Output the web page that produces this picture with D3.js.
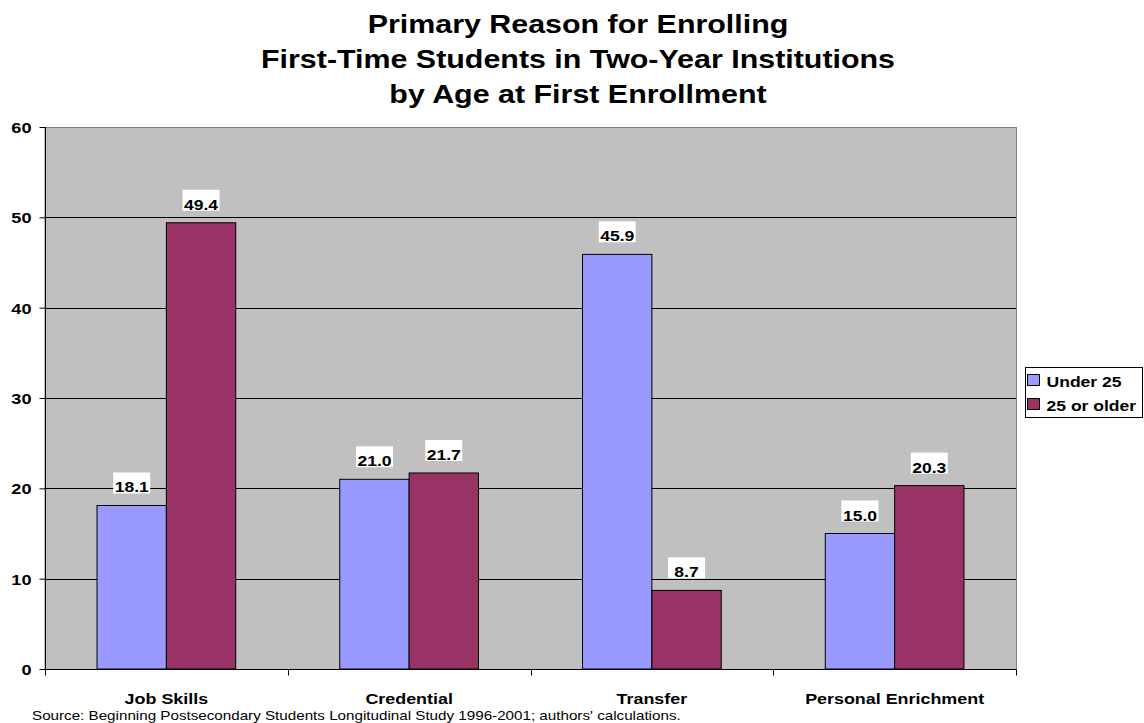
<!DOCTYPE html>
<html>
<head>
<meta charset="utf-8">
<script src="https://cdn.jsdelivr.net/npm/d3@7"></script>
<style>
  html, body { margin: 0; padding: 0; background: #ffffff; }
  svg { display: block; font-family: Arial, "Liberation Sans", sans-serif; }
</style>
</head>
<body>
<svg id="chart" width="1144" height="723"></svg>
<script>
// Primary reason for enrolling, percent of first-time students
const categories = ["Job Skills", "Credential", "Transfer", "Personal Enrichment"];
const seriesNames = ["Under 25", "25 or older"];
const under25 = [18.1, 21.0, 45.9, 15.0];
const over25 = [49.4, 21.7, 8.7, 20.3];
const yTicks = [0, 10, 20, 30, 40, 50, 60];
const titleLines = [
  "Primary Reason for Enrolling",
  "First-Time Students in Two-Year Institutions",
  "by Age at First Enrollment"
];
const sourceNote = "Source:  Beginning Postsecondary Students Longitudinal Study 1996-2001; authors' calculations.";

const colors = ["#9999FF", "#993366"];
const WIDE = 1.17; // horizontal widening applied to all lettering
const svg = d3.select("#chart");

const plot = { left: 45, right: 1016, top: 127, bottom: 669 };

const x0 = d3.scaleBand().domain(categories).range([plot.left, plot.right]).paddingInner(0).paddingOuter(0);
const y = d3.scaleLinear().domain([0, 60]).range([plot.bottom, plot.top]);

// place a text node at (x, y) with the wide lettering
function placeText(sel, fx, fy) {
  sel.attr("x", 0).attr("y", 0)
    .attr("transform", (d, i) => `translate(${fx(d, i)},${fy(d, i)}) scale(${WIDE},1)`);
}

// plot background
svg.append("rect")
  .attr("x", plot.left).attr("y", plot.top + 0.5)
  .attr("width", plot.right - plot.left + 0.5).attr("height", plot.bottom - plot.top)
  .attr("fill", "#C0C0C0").attr("stroke", "#808080").attr("stroke-width", 1);

// horizontal gridlines
svg.append("g").selectAll("line")
  .data(yTicks.filter(d => d > 0 && d < 60))
  .join("line")
  .attr("x1", plot.left).attr("x2", plot.right)
  .attr("y1", d => Math.round(y(d)) + 0.5).attr("y2", d => Math.round(y(d)) + 0.5)
  .attr("stroke", "#000").attr("stroke-width", 1);

// bars: two per category, gap width 150%
const bw = x0.bandwidth() / 3.5;
const rows = categories.map((c, i) => ({ cat: c, vals: [under25[i], over25[i]] }));
const barX = d => x0(d.cat) + bw * 0.75 + d.k * bw;

svg.append("g").selectAll("g")
  .data(rows).join("g")
  .selectAll("rect")
  .data(d => d.vals.map((v, k) => ({ cat: d.cat, v, k })))
  .join("rect")
  .attr("x", barX)
  .attr("y", d => y(d.v))
  .attr("width", bw)
  .attr("height", d => y(0) - y(d.v))
  .attr("fill", d => colors[d.k])
  .attr("stroke", "#000").attr("stroke-width", 1);

// value labels on white backing
const labels = svg.append("g").selectAll("g")
  .data(rows.flatMap(d => d.vals.map((v, k) => ({ cat: d.cat, v, k }))))
  .join("g")
  .attr("transform", d => `translate(${barX(d) + bw / 2},${y(d.v) - 13})`);

labels.append("rect")
  .attr("x", -18.5).attr("y", -20).attr("width", 37).attr("height", 21)
  .attr("fill", "#fff");
labels.append("text")
  .attr("text-anchor", "middle")
  .attr("transform", `scale(${WIDE},1)`)
  .attr("font-size", 15).attr("font-weight", "bold")
  .text(d => d.v.toFixed(1));

// y axis
const yAxis = svg.append("g")
  .attr("transform", `translate(${plot.left + 0.5},0)`)
  .call(d3.axisLeft(y).tickValues(yTicks).tickSize(6).tickPadding(0).tickFormat(d3.format("d")));
yAxis.select(".domain").attr("stroke", "#000").attr("d", `M0,${plot.top}V${plot.bottom}`);
yAxis.selectAll(".tick text")
  .attr("x", null).attr("dy", null)
  .attr("transform", `translate(-14,5.5) scale(${WIDE},1)`)
  .attr("font-size", 15.5).attr("font-weight", "bold")
  .attr("font-family", "Arial, 'Liberation Sans', sans-serif").attr("fill", "#000");

// x axis with ticks at category boundaries
const xAxisG = svg.append("g").attr("transform", `translate(0,${plot.bottom + 0.5})`);
xAxisG.append("line").attr("x1", plot.left).attr("x2", plot.right).attr("stroke", "#000");
const boundaries = categories.map(c => x0(c)).concat([plot.right]);
xAxisG.selectAll("line.tick").data(boundaries).join("line")
  .attr("class", "tick")
  .attr("x1", d => Math.round(d) + 0.5).attr("x2", d => Math.round(d) + 0.5)
  .attr("y1", 0).attr("y2", 6).attr("stroke", "#000");
xAxisG.selectAll("text").data(categories).join("text")
  .call(placeText, d => x0(d) + x0.bandwidth() / 2, () => 34)
  .attr("text-anchor", "middle")
  .attr("font-size", 15.3).attr("font-weight", "bold")
  .text(d => d);

// title
svg.append("g").selectAll("text").data(titleLines).join("text")
  .call(placeText, () => 578, (d, i) => 33 + i * 35)
  .attr("text-anchor", "middle")
  .attr("font-size", 26).attr("font-weight", "bold")
  .text(d => d);

// source note
svg.append("text")
  .datum(sourceNote)
  .call(placeText, () => 32, () => 720)
  .attr("font-size", 13)
  .text(d => d);

// legend
const legend = svg.append("g").attr("transform", "translate(1025.5,367.5)");
legend.append("rect").attr("width", 117).attr("height", 50)
  .attr("fill", "#fff").attr("stroke", "#000");
const li = legend.selectAll("g").data(seriesNames).join("g")
  .attr("transform", (d, i) => `translate(0,${i * 24})`);
li.append("rect").attr("x", 2).attr("y", 7).attr("width", 12).attr("height", 11)
  .attr("fill", (d, i) => colors[i]).attr("stroke", "#000");
li.append("text")
  .call(placeText, () => 21, () => 19)
  .attr("font-size", 15).attr("font-weight", "bold")
  .text(d => d);
</script>
</body>
</html>
